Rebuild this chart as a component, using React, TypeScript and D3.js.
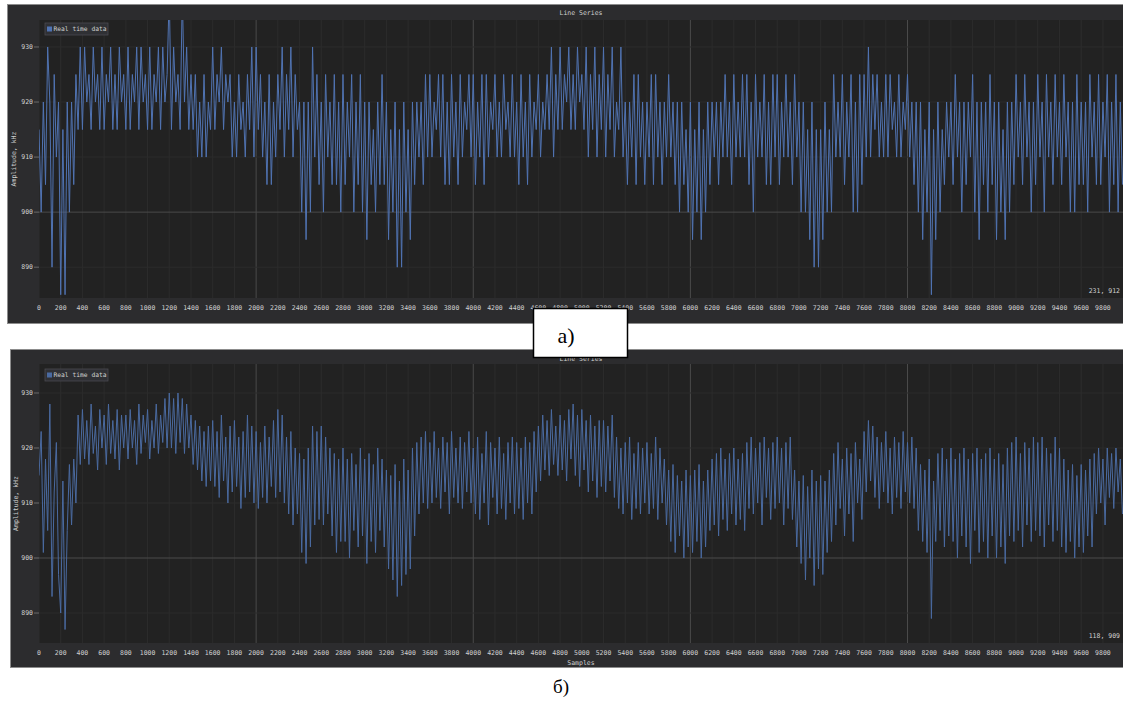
import React from "react";
import * as d3 from "d3";

// Sampling step of both recorded series (samples between stored points)
const SAMPLE_STEP = 20;

// Raw ADC readout, quantised to 5 kHz steps
const rawSamples: number[] = [
  915,900,920,905,930,920,890,925,910,920,885,915,885,920,900,920,905,925,915,930,
  915,930,920,925,915,930,920,925,915,930,915,925,920,930,915,925,915,930,920,925,
  915,930,915,925,920,930,915,930,920,925,915,930,915,925,920,930,915,930,920,925,
  940,915,930,920,925,915,940,920,930,915,925,915,925,910,920,910,925,910,920,915,
  930,915,925,920,930,915,925,920,925,910,920,910,925,915,920,910,925,915,930,910,
  930,915,925,910,920,905,925,905,920,910,925,915,930,910,925,915,930,910,925,915,
  920,900,920,895,920,900,930,910,925,905,920,900,925,910,920,905,925,905,920,900,
  925,905,920,910,925,900,920,905,925,900,920,895,920,905,915,900,920,905,925,905,
  920,895,915,900,920,890,915,890,920,900,915,895,920,905,920,910,920,905,925,910,
  925,910,920,915,925,910,925,905,920,905,925,910,920,905,925,910,920,915,925,910,
  925,905,920,910,925,905,925,910,920,915,925,910,920,910,925,915,920,910,925,910,
  920,905,925,910,920,905,925,910,920,915,925,910,920,915,925,915,930,910,925,915,
  930,915,925,920,930,915,925,915,930,920,925,915,930,910,925,915,930,910,925,915,
  930,910,925,915,930,910,920,915,930,910,920,905,920,910,925,905,925,910,920,905,
  920,910,925,905,925,910,920,905,920,910,925,910,920,905,920,900,920,905,915,900,
  920,895,915,900,920,895,915,900,920,905,920,910,920,905,920,910,925,910,920,905,
  925,910,920,910,925,910,925,905,920,900,925,910,920,910,925,905,920,905,925,910,
  925,905,920,910,925,910,920,905,925,910,920,900,920,900,915,895,920,890,915,890,
  915,895,920,900,915,900,925,910,920,910,925,905,920,910,925,900,920,900,925,905,
  925,910,930,910,925,915,925,910,920,910,925,910,925,915,920,910,925,910,920,915,
  925,910,920,905,920,900,920,895,915,900,920,885,915,895,920,900,915,905,920,910,
  920,905,925,910,920,900,920,905,920,910,925,900,920,895,920,905,920,900,925,905,
  920,895,920,900,915,895,920,900,920,905,925,910,920,905,925,910,920,900,920,905,
  925,910,920,900,925,910,920,905,925,910,920,905,925,910,920,900,920,900,925,905,
  920,905,920,900,925,910,920,905,925,905,920,910,925,900,920,905,925,900,920,905,
];

// Same readout after the moving-average filter
const smoothedSamples: number[] = [
  915,923,901,918,905,928,893,912,921,897,890,914,887,905,917,906,918,910,926,917,
  927,918,925,917,928,919,924,916,927,920,926,917,928,919,925,918,927,916,926,920,
  926,918,927,920,925,917,928,919,926,921,927,918,925,920,928,919,926,921,929,920,
  930,920,929,919,930,921,929,919,928,920,926,917,925,916,924,914,923,913,924,914,
  925,913,923,911,926,914,922,910,924,912,925,913,922,909,923,911,926,912,924,910,
  923,909,921,911,924,910,922,913,925,911,927,912,926,910,922,908,923,906,920,908,
  919,901,918,899,920,902,924,906,923,907,924,906,922,908,920,904,919,901,918,903,
  920,903,918,900,919,905,917,902,920,904,918,899,919,903,917,901,920,905,918,902,
  916,898,915,896,917,893,914,895,918,897,916,898,920,904,921,908,922,910,923,909,
  921,910,923,911,920,909,922,912,921,908,923,911,920,910,922,909,921,912,923,910,
  920,908,922,907,919,910,923,906,921,911,920,908,922,909,919,907,921,910,922,908,
  921,909,920,907,922,910,921,908,923,912,924,914,926,916,925,915,927,917,924,915,
  926,916,925,914,927,918,928,915,926,913,927,916,925,912,926,914,924,911,925,913,
  925,912,924,914,926,911,922,909,920,908,921,910,922,907,919,909,921,908,920,910,
  921,908,919,909,922,907,920,910,918,906,916,903,917,901,915,904,914,900,916,902,
  915,901,916,903,917,900,914,902,916,905,918,906,919,904,920,907,918,905,919,908,
  920,906,918,907,919,905,921,909,922,908,920,910,921,906,922,911,920,907,921,909,
  922,910,920,906,921,909,922,907,916,902,914,899,915,896,913,900,916,895,914,898,
  915,897,914,901,916,903,919,906,921,909,918,904,920,908,919,903,921,910,918,907,
  923,912,925,914,924,911,922,909,921,912,923,910,920,908,922,911,921,909,923,912,
  921,910,922,909,920,905,917,903,916,901,918,889,914,903,919,905,920,902,918,904,
  920,903,918,900,919,904,920,902,918,899,919,905,920,901,918,903,919,900,920,904,
  918,900,919,902,917,899,920,904,921,903,922,905,919,902,921,906,920,903,922,905,
  921,904,922,902,920,906,919,903,922,905,920,902,918,901,916,903,917,900,915,902,
  917,901,916,904,918,902,919,908,920,910,918,906,920,911,919,909,920,912,918,908,
];

const X_TICKS: number[] = d3.range(0, 9801, 200);
const X_MAJOR: number[] = [2000, 4000, 6000, 8000];
const Y_TICKS: number[] = [890, 900, 910, 920, 930];
const Y_MAJOR: number[] = [900];

const TITLE = "Line Series";
const LEGEND = "Real time data";
const X_LABEL = "Samples";
const Y_LABEL = "Amplitude, kHz";

const MONO = "'DejaVu Sans Mono', 'Liberation Mono', monospace";
const TXT = "#d0d0d0";

interface PanelSpec {
  id: string;
  box: [number, number, number, number];
  plot: { l: number; t: number; r: number; b: number };
  yDomain: [number, number];
  values: number[];
  color: string;
  cursor: string;
  titleY: number;
  tickY: number;
  xLabelY: number;
  yLabelX: number;
  legendDy: number;
}

const panels: PanelSpec[] = [
  {
    id: "raw",
    box: [7, 4, 1120, 319],
    plot: { l: 39, t: 20, r: 1123, b: 298 },
    yDomain: [884.4, 934.9],
    values: rawSamples,
    color: "#5073b2",
    cursor: "231, 912",
    titleY: 13,
    tickY: 308,
    xLabelY: 318,
    yLabelX: 14,
    legendDy: 3,
  },
  {
    id: "smooth",
    box: [10, 349, 1120, 318],
    plot: { l: 39, t: 364, r: 1123, b: 643 },
    yDomain: [884.55, 935.27],
    values: smoothedSamples,
    color: "#4a6aa0",
    cursor: "118, 909",
    titleY: 359,
    tickY: 653,
    xLabelY: 663,
    yLabelX: 16,
    legendDy: 5,
  },
];

function Panel({ p }: { p: PanelSpec }) {
  const x = d3.scaleLinear().domain([0, 9985]).range([p.plot.l, p.plot.r]);
  const y = d3.scaleLinear().domain(p.yDomain).range([p.plot.b, p.plot.t]);
  const line = d3
    .line<number>()
    .x((_, i) => x(i * SAMPLE_STEP))
    .y((v) => y(v));
  const [bx, by, bw, bh] = p.box;
  const { l, t, r, b } = p.plot;
  const cx = (l + r) / 2;
  const cy = (t + b) / 2;
  const clipId = `clip-${p.id}`;
  return (
    <g>
      <rect x={bx + 0.5} y={by + 0.5} width={bw} height={bh} fill="#2c2c2e" stroke="#8c8c8c" strokeWidth={1} />
      <rect x={l} y={t} width={r - l} height={b - t} fill="#222222" />
      <clipPath id={clipId}>
        <rect x={l} y={t} width={r - l} height={b - t} />
      </clipPath>
      {/* grid */}
      <g clipPath={`url(#${clipId})`}>
        {X_TICKS.map((v) => (
          <line key={`gx${v}`} x1={x(v)} x2={x(v)} y1={t} y2={b}
            stroke={X_MAJOR.includes(v) ? "#4a4a4a" : "#2c2c2c"} strokeWidth={1} />
        ))}
        {Y_TICKS.map((v) => (
          <line key={`gy${v}`} x1={l} x2={r} y1={y(v)} y2={y(v)}
            stroke={Y_MAJOR.includes(v) ? "#4a4a4a" : "#2c2c2c"} strokeWidth={1} />
        ))}
        <path d={line(p.values) ?? ""} fill="none" stroke={p.color} strokeWidth={1} />
      </g>
      {/* y axis */}
      {Y_TICKS.map((v) => (
        <g key={`yt${v}`}>
          <line x1={34} x2={39} y1={y(v)} y2={y(v)} stroke="#6a6a6a" />
          <text x={33} y={y(v)} dy="0.35em" textAnchor="end" fontFamily={MONO} fontSize={6.5} fill={TXT}>{v}</text>
        </g>
      ))}
      <text transform={`translate(${p.yLabelX},${cy}) rotate(-90)`} textAnchor="middle" dy="0.35em"
        fontFamily={MONO} fontSize={6.5} fill={TXT}>{Y_LABEL}</text>
      {/* x axis */}
      {X_TICKS.map((v) => (
        <text key={`xt${v}`} x={x(v)} y={p.tickY} textAnchor="middle" dy="0.35em"
          fontFamily={MONO} fontSize={6.5} fill={TXT}>{v}</text>
      ))}
      <text x={cx} y={p.xLabelY} textAnchor="middle" dy="0.35em" fontFamily={MONO} fontSize={6.5} fill={TXT}>{X_LABEL}</text>
      <text x={cx} y={p.titleY} textAnchor="middle" dy="0.35em" fontFamily={MONO} fontSize={6.5} fill={TXT}>{TITLE}</text>
      {/* legend */}
      <g transform={`translate(${l + 6},${t + p.legendDy})`}>
        <rect x={0} y={0} width={63} height={12} fill="#2f3034" stroke="#4a4a50" strokeWidth={0.8} />
        <rect x={2} y={3.5} width={5} height={5} fill={p.color} />
        <text x={8.5} y={6.2} dy="0.35em" fontFamily={MONO} fontSize={6.3} fill={TXT}>{LEGEND}</text>
      </g>
      {/* cursor readout */}
      <text x={r - 3} y={b - 7} textAnchor="end" dy="0.35em" fontFamily={MONO} fontSize={6.5} fill={TXT}>{p.cursor}</text>
    </g>
  );
}

export default function App() {
  return (
    <svg width={1123} height={702} style={{ position: "fixed", left: 0, top: 0, background: "#ffffff" }}>
      <rect x={0} y={0} width={1123} height={702} fill="#ffffff" />
      {panels.map((p) => (
        <Panel key={p.id} p={p} />
      ))}
      <rect x={533.5} y={308.5} width={94} height={49} fill="#ffffff" stroke="#000000" strokeWidth={1.5} />
      <text x={566} y={343} textAnchor="middle" fontFamily="'Liberation Serif', 'DejaVu Serif', serif" fontSize={22} fill="#000">а)</text>
      <text x={561} y={693} textAnchor="middle" fontFamily="'Liberation Serif', 'DejaVu Serif', serif" fontSize={19} fill="#000">б)</text>
    </svg>
  );
}
